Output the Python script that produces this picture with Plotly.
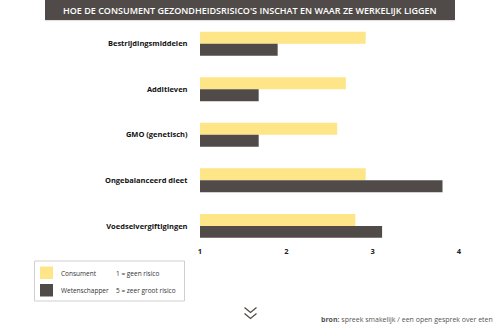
import plotly.graph_objects as go

categories = ["Bestrijdingsmiddelen", "Additieven", "GMO (genetisch)", "Ongebalanceerd dieet", "Voedselvergiftigingen"]
consument = [2.92, 2.69, 2.59, 2.92, 2.80]
wetenschapper = [1.90, 1.68, 1.68, 3.81, 3.11]
tick_vals = [1, 2, 3, 4]
tick_text = ["1", "2", "3", "4"]
scale_base = 1

YELLOW = "#FEE588"
DARK = "#504B48"

W, H = 500, 325
ML, MR, MT, MB = 200, 30, 21, 80
PW = W - ML - MR
PH = H - MT - MB

def px(x):
    return (x - ML) / PW

def py(y):
    return (H - MB - y) / PH

fig = go.Figure()
fig.add_trace(go.Bar(
    y=categories, x=[v - scale_base for v in consument], base=scale_base,
    orientation="h", marker=dict(color=YELLOW, line=dict(width=0)), name="Consument"))
fig.add_trace(go.Bar(
    y=categories, x=[v - scale_base for v in wetenschapper], base=scale_base,
    orientation="h", marker=dict(color=DARK, line=dict(width=0)), name="Wetenschapper"))

shapes = []
# title bar
shapes.append(dict(type="rect", xref="paper", yref="paper", x0=px(45), x1=px(455), y0=py(20), y1=py(0),
                   fillcolor=DARK, line=dict(width=0), layer="above"))
shapes.append(dict(type="line", xref="paper", yref="paper", x0=px(45), x1=px(455), y0=py(20.7), y1=py(20.7),
                   line=dict(color="#dcdcdc", width=1)))
# legend box
shapes.append(dict(type="rect", xref="paper", yref="paper", x0=px(34.5), x1=px(184.5), y0=py(301), y1=py(261),
                   fillcolor="white", line=dict(color="#cfcfcf", width=1)))
shapes.append(dict(type="rect", xref="paper", yref="paper", x0=px(40), x1=px(53), y0=py(279), y1=py(266.5),
                   fillcolor=YELLOW, line=dict(width=0)))
shapes.append(dict(type="rect", xref="paper", yref="paper", x0=px(40), x1=px(53), y0=py(296.5), y1=py(284),
                   fillcolor=DARK, line=dict(width=0)))
# chevrons
for top in (307.5, 313.5):
    path = "M {} {} L {} {} L {} {}".format(px(244.5), py(top), px(250.5), py(top + 5), px(256.5), py(top))
    shapes.append(dict(type="path", xref="paper", yref="paper", path=path,
                       line=dict(color=DARK, width=1.3)))

annotations = [
    dict(text="HOE DE CONSUMENT GEZONDHEIDSRISICO'S INSCHAT EN WAAR ZE WERKELIJK LIGGEN",
         xref="paper", yref="paper", x=px(250), y=py(10.5), xanchor="center", yanchor="middle",
         showarrow=False, font=dict(family="Open Sans", size=9, color="white", weight=600)),
    dict(text="Consument", xref="paper", yref="paper", x=px(59), y=py(273), xanchor="left", yanchor="middle",
         showarrow=False, font=dict(family="Open Sans", size=6.5, color="#333")),
    dict(text="Wetenschapper", xref="paper", yref="paper", x=px(59), y=py(290), xanchor="left", yanchor="middle",
         showarrow=False, font=dict(family="Open Sans", size=6.5, color="#333")),
    dict(text="1 = geen risico", xref="paper", yref="paper", x=px(114), y=py(273), xanchor="left", yanchor="middle",
         showarrow=False, font=dict(family="Open Sans", size=6.5, color="#333")),
    dict(text="5 = zeer groot risico", xref="paper", yref="paper", x=px(114), y=py(290), xanchor="left", yanchor="middle",
         showarrow=False, font=dict(family="Open Sans", size=6.5, color="#333")),
    dict(text="<b>bron:</b> spreek smakelijk / een open gesprek over eten", xref="paper", yref="paper",
         x=px(495), y=py(319), xanchor="right", yanchor="middle",
         showarrow=False, font=dict(family="Open Sans", size=7, color="#555")),
]

fig.update_layout(
    width=W, height=H,
    margin=dict(l=ML, r=MR, t=MT, b=MB, pad=0),
    paper_bgcolor="white", plot_bgcolor="white",
    barmode="group", bargap=0.473, bargroupgap=0,
    showlegend=False,
    shapes=shapes, annotations=annotations,
    xaxis=dict(range=[1, 1 + PW / 86.3], tickvals=tick_vals, ticktext=tick_text,
               showgrid=False, zeroline=False, showline=False, ticks="",
               tickfont=dict(family="Open Sans", size=7.5, color="#222", weight="bold")),
    yaxis=dict(type="category", range=[4.42, -0.5], showgrid=False, zeroline=False, showline=False,
               ticks="outside", ticklen=10, tickcolor="rgba(0,0,0,0)",
               tickfont=dict(family="Open Sans", size=7.5, color="#111", weight="bold")),
)

fig.write_html("out.html")
